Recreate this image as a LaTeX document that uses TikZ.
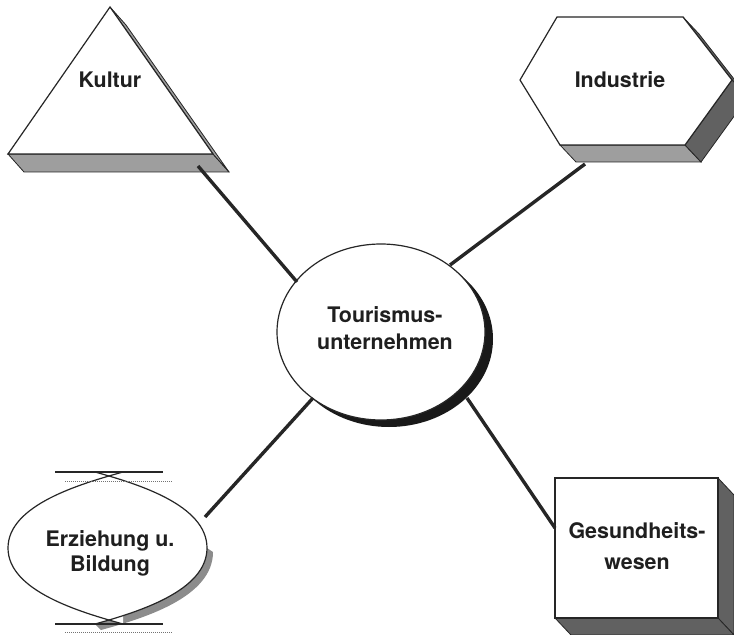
\documentclass[tikz,border=0pt]{standalone}
\usepackage{fontspec}
\newfontfamily\hv{TeX Gyre Heros}
\begin{document}
\begin{tikzpicture}[x=1bp,y=-1bp,
  outline/.style={draw=black!85, line width=1.2bp, line join=miter},
  link/.style={draw=black!85, line width=3.4bp},
  lbl/.style={font=\hv\bfseries\fontsize{21.5}{#1}\selectfont, text=black!88, align=center, inner sep=0pt, anchor=north},
  lbl/.default=27,
  lightface/.style={fill=black!38, draw=black!85, line width=0.8bp, line join=miter},
  darkface/.style={fill=black!62, draw=black!85, line width=0.8bp, line join=miter},
  dotline/.style={draw=black!55, line width=0.9bp, dash pattern=on 1bp off 1bp}]
\useasboundingbox (0,0) rectangle (734,635);
\clip (0,0) rectangle (734,635);

% ---------- Kultur (triangle) ----------
\coordinate (triA) at (110,7);
\coordinate (triL) at (8,154);
\coordinate (triR) at (213,154);
\coordinate (triAo) at (126,25);
\coordinate (triLo) at (24,172);
\coordinate (triRo) at (229,172);
\filldraw[lightface] (triL) -- (triR) -- (triRo) -- (triLo) -- cycle;
\filldraw[lightface] (triA) -- (triR) -- (triRo) -- (triAo) -- cycle;
\filldraw[fill=white, outline] (triA) -- (triL) -- (triR) -- cycle;
\node[lbl] (kultur) at (110,72) {Kultur};

% ---------- Industrie (hexagon) ----------
\coordinate (hTL) at (557,17);
\coordinate (hTR) at (683,17);
\coordinate (hR) at (732,80);
\coordinate (hBR) at (685,145);
\coordinate (hBL) at (560,145);
\coordinate (hL) at (520,80);
\coordinate (hTRo) at (699,34);
\coordinate (hRo) at (748,97);
\coordinate (hBRo) at (701,162);
\coordinate (hBLo) at (576,162);
\filldraw[lightface] (hBL) -- (hBR) -- (hBRo) -- (hBLo) -- cycle;
\filldraw[darkface] (hTR) -- (hR) -- (hRo) -- (hTRo) -- cycle;
\filldraw[darkface] (hR) -- (hBR) -- (hBRo) -- (hRo) -- cycle;
\filldraw[fill=white, outline] (hTL) -- (hTR) -- (hR) -- (hBR) -- (hBL) -- (hL) -- cycle;
\node[lbl] (industrie) at (620,71) {Industrie};

% ---------- Tourismusunternehmen (ellipse) ----------
\fill[black!90] (389,339) ellipse [x radius=104, y radius=88];
\filldraw[fill=white, draw=black!85, line width=1.2bp] (381,332) ellipse [x radius=104, y radius=88];
\node[lbl=27] (tour) at (385,306) {Tourismus-\\unternehmen};

% ---------- Erziehung u. Bildung (lens) ----------
\fill[black!45] (207,548) .. controls (207,591) and (138,612) .. (95,624)
   -- (101,630) .. controls (145,618) and (213,597) .. (213,552) -- cycle;
\fill[white] (123,472) .. controls (80,484) and (8,505) .. (8,548)
   .. controls (8,591) and (80,612) .. (123,624) -- cycle;
\fill[white] (95,472) .. controls (138,484) and (207,505) .. (207,548)
   .. controls (207,591) and (138,612) .. (95,624) -- cycle;
\draw[outline, line width=1.2bp] (123,472) .. controls (80,484) and (8,505) .. (8,548)
   .. controls (8,591) and (80,612) .. (123,624);
\draw[outline, line width=1.2bp] (95,472) .. controls (138,484) and (207,505) .. (207,548)
   .. controls (207,591) and (138,612) .. (95,624);
\draw[outline, line width=1.4bp] (55,472) -- (163,472);
\draw[dotline] (65,481) -- (172,481);
\draw[outline, line width=1.4bp] (55,624) -- (163,624);
\draw[dotline] (65,632) -- (172,632);
\node[lbl=25] (bildung) at (110,530) {Erziehung u.\\Bildung};

% ---------- Gesundheitswesen (cube) ----------
\coordinate (cTL) at (555,478);
\coordinate (cTR) at (718,478);
\coordinate (cBR) at (718,618);
\coordinate (cBL) at (555,618);
\coordinate (cTRo) at (734,495);
\coordinate (cBRo) at (734,635);
\coordinate (cBLo) at (571,635);
\filldraw[darkface] (cTR) -- (cTRo) -- (cBRo) -- (cBR) -- cycle;
\filldraw[darkface] (cBL) -- (cBR) -- (cBRo) -- (cBLo) -- cycle;
\filldraw[fill=white, outline] (cTL) rectangle (cBR);
\node[lbl=31] (gesund) at (637,522) {Gesundheits-\\wesen};

% ---------- connectors ----------
\coordinate (k1) at (198,166);
\coordinate (t1) at (297,282);
\coordinate (k2) at (585,164);
\coordinate (t2) at (450,265);
\coordinate (t3) at (313,398);
\coordinate (k3) at (205,517);
\coordinate (t4) at (467,398);
\coordinate (k4) at (555,528);
\draw[link] (k1) -- (t1);
\draw[link] (k2) -- (t2);
\draw[link] (t3) -- (k3);
\draw[link] (t4) -- (k4);
\end{tikzpicture}
\end{document}
